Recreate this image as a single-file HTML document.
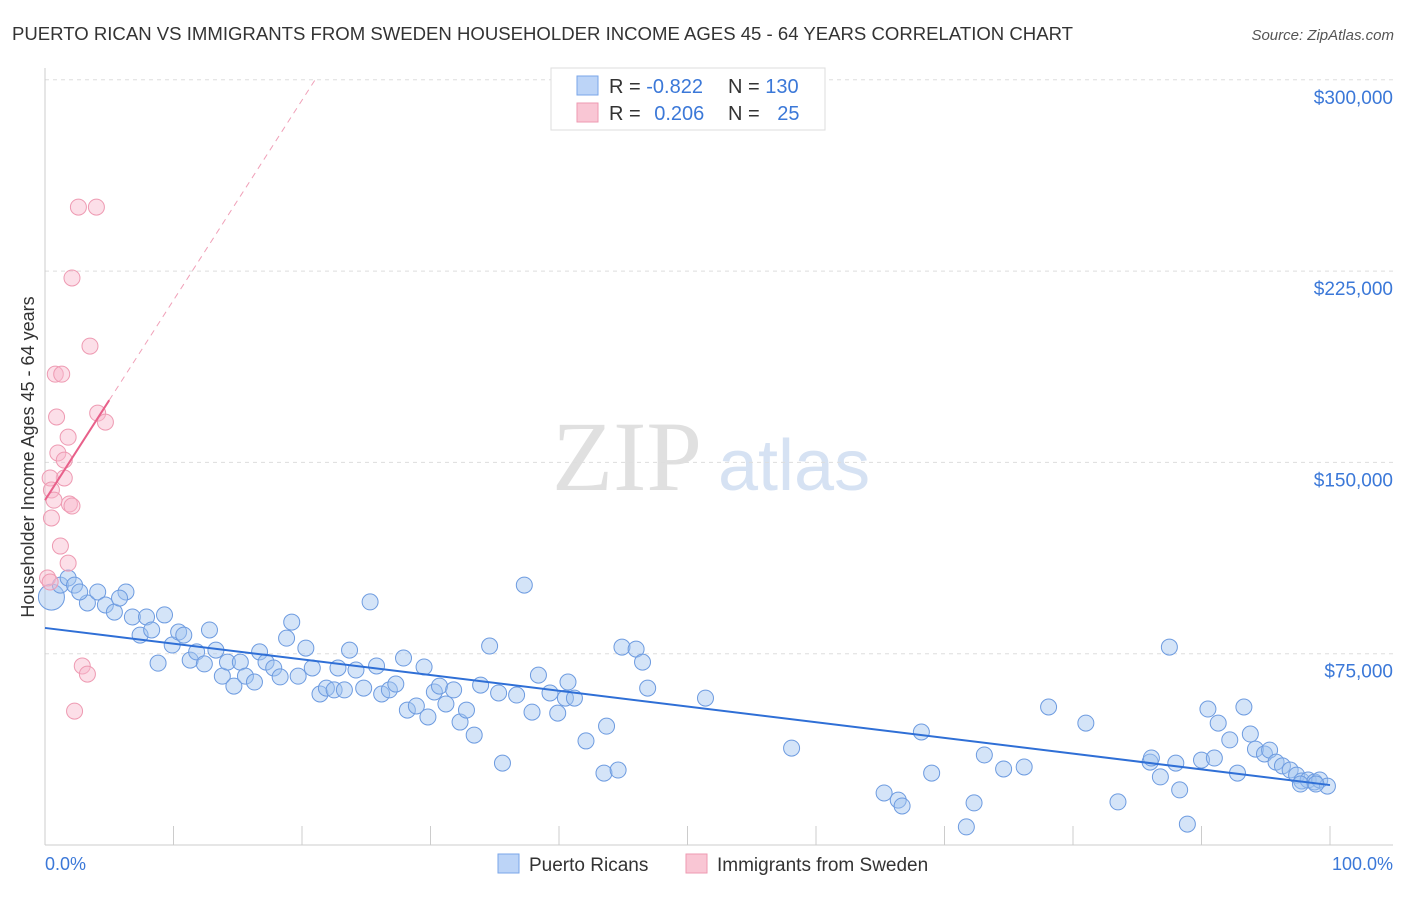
<!DOCTYPE html>
<html><head><meta charset="utf-8"><style>
body{margin:0;background:#fff;font-family:"Liberation Sans",sans-serif;}
svg text{font-family:"Liberation Sans",sans-serif;}
</style></head><body>
<svg id="chart" width="1406" height="892" viewBox="0 0 1406 892">
<text x="12" y="40" font-size="18" fill="#333" textLength="1061" lengthAdjust="spacingAndGlyphs">PUERTO RICAN VS IMMIGRANTS FROM SWEDEN HOUSEHOLDER INCOME AGES 45 - 64 YEARS CORRELATION CHART</text>
<text x="1394" y="40" font-size="15" fill="#555" font-style="italic" text-anchor="end">Source: ZipAtlas.com</text>
<g>
<text x="552" y="490" font-size="100" fill="#e0e0e0" style="font-family:'Liberation Serif',serif">ZIP</text>
<text x="718" y="490" font-size="72" fill="#d6e2f3">atlas</text>
</g>
<g id="grid"></g>
<g id="axes"></g>
<g id="marks"></g>
<text transform="translate(34,457) rotate(-90)" font-size="18" fill="#333" text-anchor="middle">Householder Income Ages 45 - 64 years</text>
<text x="45" y="870" font-size="18" fill="#3b78d8">0.0%</text>
<text x="1393" y="870" font-size="18" fill="#3b78d8" text-anchor="end">100.0%</text>
<g>
<rect x="551" y="68" width="274" height="62" fill="#fff" stroke="#ddd"/>
<rect x="577" y="76" width="21" height="19" fill="#bcd4f7" stroke="#7aa6e8"/>
<rect x="577" y="103" width="21" height="19" fill="#f9c6d4" stroke="#ee9ab2"/>
<text x="609" y="93" font-size="20" fill="#333">R = <tspan fill="#3b78d8">-0.822</tspan></text>
<text x="728" y="93" font-size="20" fill="#333">N = <tspan fill="#3b78d8">130</tspan></text>
<text x="609" y="120" font-size="20" fill="#333">R = <tspan fill="#3b78d8" dx="8">0.206</tspan></text>
<text x="728" y="120" font-size="20" fill="#333">N = <tspan fill="#3b78d8" dx="12">25</tspan></text>
</g>
<g>
<rect x="498" y="854" width="21" height="19" fill="#bcd4f7" stroke="#7aa6e8"/>
<text x="529" y="871" font-size="19" fill="#333">Puerto Ricans</text>
<rect x="686" y="854" width="21" height="19" fill="#f9c6d4" stroke="#ee9ab2"/>
<text x="717" y="871" font-size="19" fill="#333">Immigrants from Sweden</text>
</g>
</svg>
<script>
const yTicks=[75000,150000,225000,300000];
const yTickLabels=["$75,000","$150,000","$225,000","$300,000"];
const xTicks=[0,10,20,30,40,50,60,70,80,90,100];
const blueX=[0.5,1.2,1.8,2.3,3.3,2.7,4.1,4.7,5.4,6.3,5.8,6.8,7.4,7.9,8.3,8.8,9.3,9.9,10.4,10.8,11.3,11.8,12.4,12.8,13.3,13.8,14.2,14.7,15.2,15.6,16.3,16.7,17.2,17.8,18.3,18.8,19.2,19.7,20.3,20.8,21.4,21.9,22.5,22.8,23.3,23.7,24.2,24.8,25.3,25.8,26.2,26.8,27.3,27.9,28.2,28.9,29.5,29.8,30.3,30.7,31.2,31.8,32.3,32.8,33.4,33.9,34.6,35.3,35.6,36.7,37.3,37.9,38.4,39.3,39.9,40.5,40.7,41.2,42.1,43.5,43.7,44.6,44.9,46.0,46.5,46.9,51.4,58.1,65.3,66.4,66.7,68.2,69.0,71.7,72.3,73.1,74.6,76.2,78.1,81.0,83.5,86.0,86.1,86.8,87.5,88.0,88.3,88.9,90.0,90.5,91.0,91.3,92.2,92.8,93.3,93.8,94.2,94.9,95.3,95.8,96.3,96.9,97.4,97.8,98.3,98.8,99.2,99.8,97.7,98.9];
const blueY=[97.2,101.9,104.7,101.9,94.9,99.2,99.2,94.1,91.3,99.2,96.8,89.4,82.3,89.4,84.3,71.3,90.2,78.4,83.5,82.3,72.5,75.7,71.0,84.3,76.4,66.2,71.7,62.3,71.7,66.2,63.9,75.7,71.7,69.4,65.9,81.1,87.4,66.2,77.2,69.4,59.2,61.5,60.8,69.4,60.8,76.4,68.6,61.5,95.3,70.2,59.2,60.8,63.1,73.3,52.9,54.5,69.8,50.2,60.0,62.3,55.3,60.8,48.2,52.9,43.1,62.7,78.0,59.6,32.1,58.8,101.9,52.1,66.6,59.6,51.7,57.6,63.9,57.6,40.8,28.2,46.6,29.4,77.6,76.8,71.7,61.5,57.6,38.0,20.4,17.6,15.3,44.3,28.2,7.1,16.5,35.3,29.8,30.6,54.1,47.8,16.9,32.5,34.1,26.7,77.6,32.1,21.6,8.2,33.3,53.3,34.1,47.8,41.2,28.2,54.1,43.5,37.6,35.7,37.2,32.5,31.0,29.4,27.4,25.1,25.5,24.7,25.5,23.1,23.9,23.9];
const pinkX=[2.6,4.0,2.1,3.5,0.8,1.3,0.9,4.1,4.7,1.8,1.0,1.5,1.5,0.4,0.5,0.7,1.9,2.1,0.5,1.2,1.8,0.2,0.4,2.9,3.3,2.3];
const pinkY=[250.1,250.1,222.3,195.6,184.6,184.6,167.8,169.3,165.8,159.9,153.7,150.9,143.9,143.9,139.2,135.2,133.7,132.9,128.2,117.2,110.5,104.7,103.1,70.2,67.0,52.5];
const blueLine=[85.1,23.5];
const pinkLine=[135.2,7.84];
const NS="http://www.w3.org/2000/svg";
const X=p=>45+p*12.85;
const Y=v=>845-v*191.3/75000;
function mk(t,a,parent){const e=document.createElementNS(NS,t);for(const k in a)e.setAttribute(k,a[k]);document.getElementById(parent).appendChild(e);return e;}
yTicks.forEach((v,i)=>{
 const l=mk('line',{x1:45,x2:1393,y1:Y(v),y2:Y(v),stroke:'#ddd','stroke-dasharray':'4,4'},'grid');
 
 
 const t=mk('text',{x:1393,y:Y(v)+24,'font-size':19,fill:'#3b78d8','text-anchor':'end'},'axes');
 t.textContent=yTickLabels[i];
 
 
});
let a=mk('line',{x1:45,x2:45,y1:68,y2:845,stroke:'#ccc'},'axes');


a=mk('line',{x1:45,x2:1393,y1:845,y2:845,stroke:'#ccc'},'axes');


xTicks.forEach(p=>{
 const t=mk('line',{x1:X(p),x2:X(p),y1:826,y2:845,stroke:'#ccc'},'axes');
 
 
});
blueX.forEach((x,i)=>{
 const c=mk('circle',{cx:X(x),cy:Y(blueY[i]*1000),r:i===0?13:8,fill:'rgba(160,195,240,0.45)',stroke:'#6d9be0','stroke-width':1},'marks');
 
 
});
pinkX.forEach((x,i)=>{
 const c=mk('circle',{cx:X(x),cy:Y(pinkY[i]*1000),r:8,fill:'rgba(248,185,205,0.45)',stroke:'#ee9ab2','stroke-width':1},'marks');
 
 
});
let ln=mk('line',{x1:X(0),y1:Y(blueLine[0]*1000),x2:X(100),y2:Y(blueLine[1]*1000),stroke:'#2f6fd6','stroke-width':2},'marks');


const pEnd=(300-pinkLine[0])/pinkLine[1];
ln=mk('line',{x1:X(5),y1:Y((pinkLine[0]+5*pinkLine[1])*1000),x2:X(pEnd),y2:Y(300000),stroke:'#f0a0b8','stroke-width':1,'stroke-dasharray':'6,5'},'marks');


ln=mk('line',{x1:X(0),y1:Y(pinkLine[0]*1000),x2:X(5),y2:Y((pinkLine[0]+5*pinkLine[1])*1000),stroke:'#e8608a','stroke-width':2},'marks');


</script>
</body></html>
